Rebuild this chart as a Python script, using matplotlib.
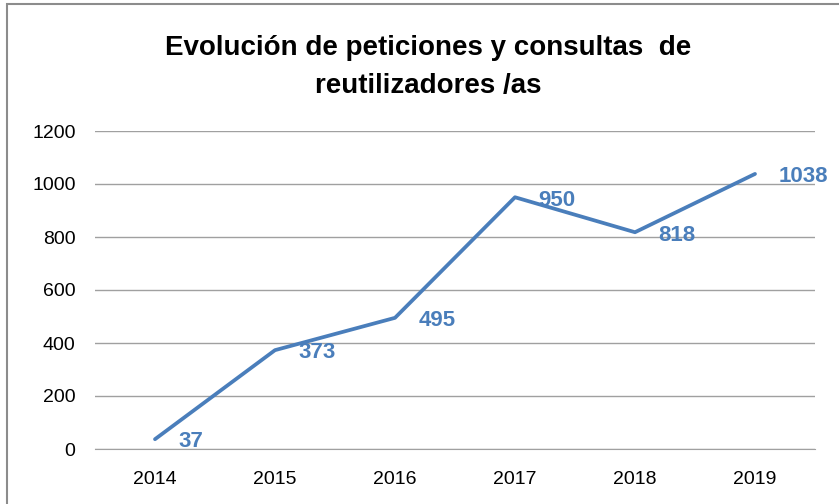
import matplotlib
matplotlib.use("Agg")
import matplotlib.pyplot as plt
from matplotlib.patches import Rectangle
from matplotlib import font_manager

years = ["2014", "2015", "2016", "2017", "2018", "2019"]
values = [37, 373, 495, 950, 818, 1038]
yticks = [0, 200, 400, 600, 800, 1000, 1200]
title = "Evolución de peticiones y consultas  de\nreutilizadores /as"

avail = {f.name for f in font_manager.fontManager.ttflist}
fam = "Liberation Sans Narrow" if "Liberation Sans Narrow" in avail else "Liberation Sans"
plt.rcParams['font.family'] = [fam, 'DejaVu Sans']

W, H = 839, 504
fig = plt.figure(figsize=(W/100, H/100), dpi=100)
ax = fig.add_axes([95/W, 1-449/H, 720/W, (449-131)/H])

x = list(range(len(years)))
color = "#4A7EBB"
ax.plot(x, values, color=color, lw=2.7, solid_capstyle='round', zorder=3)
for xi, v in zip(x, values):
    ax.annotate(str(v), (xi, v), xytext=(17, -2), textcoords='offset points',
                ha='left', va='center', color=color, fontsize=16, fontweight='bold')

ax.set_xlim(-0.5, 5.5)
ax.set_ylim(0, 1200)
ax.set_yticks(yticks)
ax.set_yticklabels([str(t) for t in yticks])
ax.set_xticks(x)
ax.set_xticklabels(years)
ax.grid(axis='y', color='#A0A0A0', lw=1)
ax.set_axisbelow(True)
for s in ['top', 'right', 'left']:
    ax.spines[s].set_visible(False)
ax.spines['bottom'].set_color('#A0A0A0')
ax.tick_params(axis='both', length=0, labelsize=14, colors='black')
ax.tick_params(axis='y', pad=14)
ax.tick_params(axis='x', pad=16)

fig.text(428/W, 1-67/H, title, ha='center', va='center', fontsize=20,
         fontweight='bold', linespacing=1.6)

fig.patches.append(Rectangle((7/W, -0.1), 1.2, (1+0.1) - 4/H, transform=fig.transFigure,
                             fill=False, edgecolor='#8C8C8C', lw=1.5, zorder=0))

fig.savefig("out.png", dpi=100)
